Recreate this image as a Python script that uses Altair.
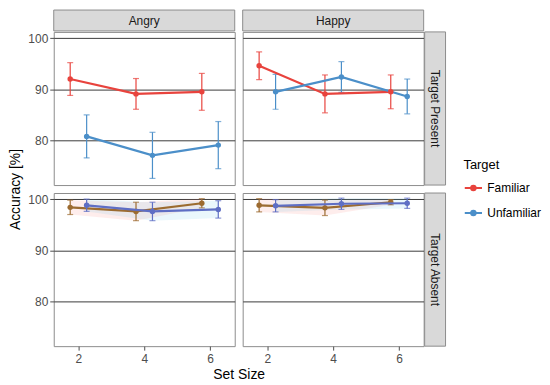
import altair as alt
import pandas as pd

set_sizes = [2, 4, 6]
emotions = ["Angry", "Happy"]
conditions = ["Target Present", "Target Absent"]
targets = ["Familiar", "Unfamiliar"]

# mean accuracy [%] and error half-widths per set size
angry_present_familiar = [92.0, 89.1, 89.5]
angry_present_familiar_err = [3.2, 3.0, 3.6]
angry_present_unfamiliar = [80.8, 77.1, 79.1]
angry_present_unfamiliar_err = [4.2, 4.5, 4.6]
happy_present_familiar = [94.6, 89.1, 89.5]
happy_present_familiar_err = [2.7, 3.7, 3.3]
happy_present_unfamiliar = [89.5, 92.4, 88.6]
happy_present_unfamiliar_err = [3.4, 3.0, 3.4]
angry_absent_familiar = [98.4, 97.6, 99.2]
angry_absent_familiar_err = [1.4, 1.8, 0.9]
angry_absent_unfamiliar = [98.8, 97.6, 98.0]
angry_absent_unfamiliar_err = [1.2, 1.8, 1.7]
happy_absent_familiar = [98.8, 98.3, 99.4]
happy_absent_familiar_err = [1.3, 1.5, 0.5]
happy_absent_unfamiliar = [98.7, 99.1, 99.2]
happy_absent_unfamiliar_err = [1.2, 1.1, 1.0]

series = {
    ("Angry", "Target Present", "Familiar"): (angry_present_familiar, angry_present_familiar_err),
    ("Angry", "Target Present", "Unfamiliar"): (angry_present_unfamiliar, angry_present_unfamiliar_err),
    ("Happy", "Target Present", "Familiar"): (happy_present_familiar, happy_present_familiar_err),
    ("Happy", "Target Present", "Unfamiliar"): (happy_present_unfamiliar, happy_present_unfamiliar_err),
    ("Angry", "Target Absent", "Familiar"): (angry_absent_familiar, angry_absent_familiar_err),
    ("Angry", "Target Absent", "Unfamiliar"): (angry_absent_unfamiliar, angry_absent_unfamiliar_err),
    ("Happy", "Target Absent", "Familiar"): (happy_absent_familiar, happy_absent_familiar_err),
    ("Happy", "Target Absent", "Unfamiliar"): (happy_absent_unfamiliar, happy_absent_unfamiliar_err),
}

rows = []
for (emo, cond, tgt), (vals, errs) in series.items():
    for s, v, e in zip(set_sizes, vals, errs):
        rows.append({"emotion": emo, "condition": cond, "target": tgt, "size": s, "acc": v, "err": e})
df = pd.DataFrame(rows)

W, H = 182, 154
GAP = 8
RED, BLUE = "#E8433D", "#4B8FC9"
BOTTOM_COLORS = {"Familiar": "#9C6B30", "Unfamiliar": "#5E6EC4"}
RIBBON_COLORS = {"Familiar": "#F8766D", "Unfamiliar": "#5BC0EB"}
FONT = "Liberation Sans"

color_scale = alt.Scale(domain=targets, range=[RED, BLUE])
xscale = alt.Scale(domain=[1.25, 6.75], nice=False, zero=False)
yscale = alt.Scale(domain=[71.3, 101.2], nice=False, zero=False)

legend_path = "M-1,0L1,0M0.26,0A0.26,0.26,0,1,1,-0.26,0A0.26,0.26,0,1,1,0.26,0Z"


def panel(emo, cond, left, bottom, top_strip, right_strip):
    base = alt.Chart(df).transform_filter(
        (alt.datum.emotion == emo) & (alt.datum.condition == cond)
    ).transform_calculate(
        xd="datum.size + (datum.target == 'Familiar' ? -0.25 : 0.25)",
        lo="datum.acc - datum.err",
        hi="datum.acc + datum.err",
    )

    if bottom:
        xaxis = alt.Axis(values=set_sizes, grid=False, labelPadding=3,
                         title="Set Size" if left else None, titleX=W + GAP / 2,
                         titlePadding=4)
    else:
        xaxis = None
    if left:
        yaxis = alt.Axis(values=[80, 90, 100], grid=True,
                         title="Accuracy [%]" if not bottom else None,
                         titleY=H + GAP / 2, titlePadding=5)
    else:
        yaxis = alt.Axis(values=[80, 90, 100], grid=True, labels=False,
                         ticks=False, title=None)

    X = alt.X("xd:Q", scale=xscale, axis=xaxis)
    Xn = alt.X("xd:Q", scale=xscale)
    Y = alt.Y("acc:Q", scale=yscale, axis=yaxis)

    layers = []
    if cond == "Target Present":
        col = alt.Color("target:N", scale=color_scale,
                        legend=alt.Legend(title="Target", symbolType=legend_path))
        layers.append(base.mark_rule(strokeWidth=1.2).encode(
            x=X, y=alt.Y("lo:Q", scale=yscale, axis=yaxis), y2="hi:Q", color=col))
        layers.append(base.mark_tick(orient="horizontal", size=6, thickness=1.2).encode(
            x=Xn, y=alt.Y("hi:Q", scale=yscale), color=col))
        layers.append(base.mark_tick(orient="horizontal", size=6, thickness=1.2).encode(
            x=Xn, y=alt.Y("lo:Q", scale=yscale), color=col))
        layers.append(base.mark_line(strokeWidth=2.2).encode(x=Xn, y=Y, color=col))
        layers.append(base.mark_circle(size=30, opacity=1).encode(x=Xn, y=Y, color=col))
    else:
        first = True
        for tgt in targets:
            b = base.transform_filter(alt.datum.target == tgt)
            if first:
                enc = dict(x=X, y=alt.Y("lo:Q", scale=yscale, axis=yaxis), y2="hi:Q")
            else:
                enc = dict(x=Xn, y=alt.Y("lo:Q", scale=yscale), y2="hi:Q")
            layers.append(b.mark_area(color=RIBBON_COLORS[tgt], opacity=0.13).encode(**enc))
            first = False
        for tgt in targets:
            b = base.transform_filter(alt.datum.target == tgt)
            c = BOTTOM_COLORS[tgt]
            layers.append(b.mark_rule(strokeWidth=1.2, color=c).encode(
                x=Xn, y=alt.Y("lo:Q", scale=yscale), y2="hi:Q"))
            layers.append(b.mark_tick(orient="horizontal", size=6, thickness=1.2, color=c).encode(
                x=Xn, y=alt.Y("hi:Q", scale=yscale)))
            layers.append(b.mark_tick(orient="horizontal", size=6, thickness=1.2, color=c).encode(
                x=Xn, y=alt.Y("lo:Q", scale=yscale)))
            layers.append(b.mark_line(strokeWidth=2.2, color=c).encode(x=Xn, y=alt.Y("acc:Q", scale=yscale)))
            layers.append(b.mark_circle(size=30, opacity=1, color=c).encode(x=Xn, y=alt.Y("acc:Q", scale=yscale)))

    if top_strip:
        sd = alt.Chart(pd.DataFrame({"label": [emo]}))
        layers.append(sd.mark_rect(fill="#D9D9D9", stroke="#8C8C8C", strokeWidth=1).encode(
            x=alt.value(0), x2=alt.value(W), y=alt.value(-22), y2=alt.value(-1)))
        layers.append(sd.mark_text(font=FONT, fontSize=12, color="#1A1A1A").encode(
            text="label:N", x=alt.value(W / 2), y=alt.value(-11)))
    if right_strip:
        sd = alt.Chart(pd.DataFrame({"label": [cond]}))
        layers.append(sd.mark_rect(fill="#D9D9D9", stroke="#8C8C8C", strokeWidth=1).encode(
            x=alt.value(W + 1), x2=alt.value(W + 22), y=alt.value(0), y2=alt.value(H)))
        layers.append(sd.mark_text(font=FONT, fontSize=12, color="#1A1A1A", angle=90).encode(
            text="label:N", x=alt.value(W + 11.5), y=alt.value(H / 2)))

    return alt.layer(*layers).properties(width=W, height=H)


p11 = panel("Angry", "Target Present", True, False, True, False)
p12 = panel("Happy", "Target Present", False, False, True, True)
p21 = panel("Angry", "Target Absent", True, True, False, False)
p22 = panel("Happy", "Target Absent", False, True, False, True)

chart = alt.concat(p11, p12, p21, p22, columns=2, spacing=GAP, bounds="flush").properties(
    padding={"left": 0, "top": 0, "right": 0, "bottom": 0}
).configure_view(
    stroke="#8C8C8C", strokeWidth=1
).configure_axis(
    labelFont=FONT, labelFontSize=12, labelColor="#4D4D4D",
    tickColor="#4D4D4D", tickSize=4, domain=False,
    titleFont=FONT, titleFontSize=14, titleColor="#000000", titleFontWeight="normal",
    gridColor="#3A3A3A", gridWidth=1,
).configure_legend(
    orient="none", legendX=412, legendY=128,
    titleFont=FONT, titleFontSize=13, titleFontWeight="normal", titleColor="#000000",
    labelFont=FONT, labelFontSize=12, labelColor="#000000",
    symbolSize=300, symbolStrokeWidth=2, symbolOpacity=1, rowPadding=8, titlePadding=6,
)

chart.save("out.html", embed_options={"renderer": "svg", "actions": False})
